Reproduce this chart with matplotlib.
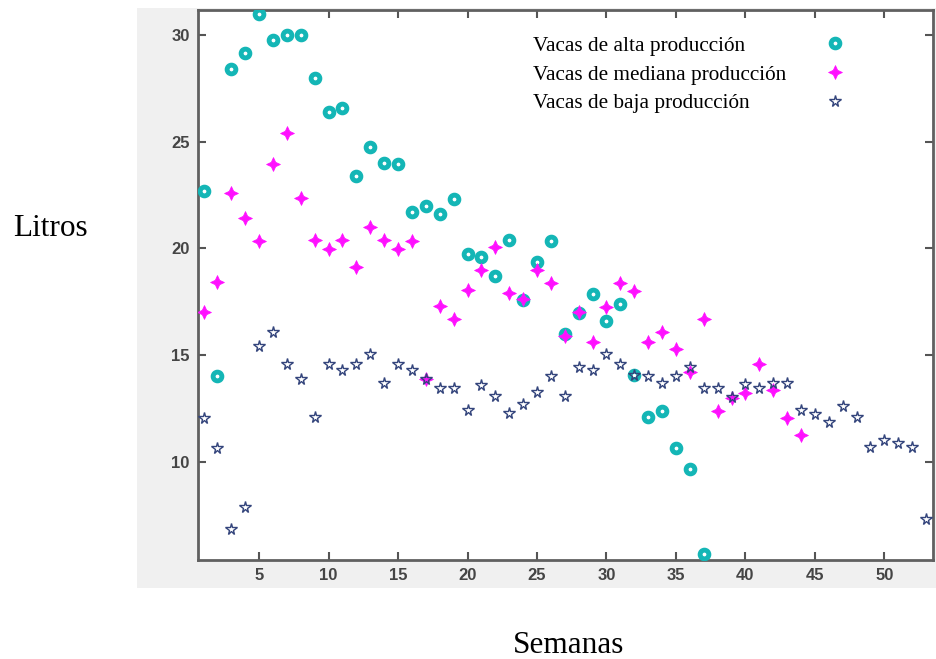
import numpy as np
import matplotlib
matplotlib.use("Agg")
import matplotlib.pyplot as plt
from matplotlib.patches import Rectangle
from matplotlib.path import Path
from matplotlib.lines import Line2D

# datos
alta = [22.7, 14.0, 28.4, 29.15, 31.0, 29.77, 30.0, 30.0, 28.0, 26.4,
        26.6, 23.4, 24.75, 24.0, 23.95, 21.7, 22.0, 21.6, 22.3, 19.73,
        19.6, 18.7, 20.4, 17.6, 19.36, 20.34, 16.0, 16.97, 17.86, 16.6,
        17.4, 14.06, 12.1, 12.4, 10.67, 9.65, 5.66]
mediana = [17.0, 18.42, 22.6, 21.42, 20.34, 23.95, 25.4, 22.36, 20.4, 19.97,
           20.4, 19.12, 21.0, 20.4, 19.97, 20.34, 13.87, 17.3, 16.69, 18.05,
           18.98, 20.06, 17.9, 17.62, 18.98, 18.37, 15.9, 17.02, 15.6, 17.27,
           18.4, 18.0, 15.6, 16.07, 15.27, 14.22, 16.68, 12.38, 12.97, 13.24,
           14.6, 13.37, 12.07, 11.28]
baja = [12.03, 10.67, 6.87, 7.89, 15.42, 16.06, 14.6, 13.89, 12.1, 14.6,
        14.3, 14.6, 15.04, 13.7, 14.6, 14.3, 13.86, 13.44, 13.44, 12.42,
        13.62, 13.08, 12.29, 12.7, 13.28, 14.0, 13.08, 14.42, 14.3, 15.04,
        14.6, 14.06, 14.0, 13.67, 14.0, 14.42, 13.44, 13.44, 13.05, 13.64,
        13.44, 13.7, 13.67, 12.42, 12.22, 11.87, 12.6, 12.1, 10.7, 11.01,
        10.89, 10.7, 7.3]
semanas_alta = np.arange(1, len(alta) + 1)
semanas_mediana = np.arange(1, len(mediana) + 1)
semanas_baja = np.arange(1, len(baja) + 1)

etiquetas = ["Vacas de alta producción", "Vacas de mediana producción",
             "Vacas de baja producción"]
xticks = [5, 10, 15, 20, 25, 30, 35, 40, 45, 50]
yticks = [10, 15, 20, 25, 30]

fig = plt.figure(figsize=(9.36, 6.59), dpi=100)
fig.patch.set_facecolor("white")
# fondo gris tipo matlab
fig.patches.append(Rectangle((137 / 936, 71 / 659), 799 / 936, 580 / 659,
                             transform=fig.transFigure, facecolor="#f0f0f0",
                             edgecolor="none", zorder=-10))

ax = fig.add_axes([198 / 936, 99 / 659, 735 / 936, 550 / 659])
ax.set_facecolor("white")

# estrella de 4 puntas para la mediana
cuatro = Path.unit_regular_star(4, 0.45)

l1, = ax.plot(semanas_alta, alta, linestyle="none", marker="o", markersize=6.3,
              markeredgewidth=3.5, markeredgecolor="#14b6b6", markerfacecolor="white",
              zorder=3)
l2, = ax.plot(semanas_mediana, mediana, linestyle="none", marker=cuatro, markersize=10,
              markeredgewidth=0.5, markeredgecolor="#ff10ff", markerfacecolor="#ff10ff",
              zorder=4)
l3, = ax.plot(semanas_baja, baja, linestyle="none", marker="*", markersize=8.5,
              markeredgewidth=1.0, markeredgecolor="#34457c", markerfacecolor="none",
              zorder=5)

ax.set_xlim(0.6, 53.5)
ax.set_ylim(5.4, 31.17)
ax.set_xticks(xticks)
ax.set_yticks(yticks)
ax.tick_params(direction="in", length=6, width=1.5, color="#555555",
               top=True, right=True, labelsize=12, labelcolor="#454545", pad=6)
for lab in ax.get_xticklabels() + ax.get_yticklabels():
    lab.set_family("Liberation Sans")
    lab.set_fontweight("bold")
for sp in ax.spines.values():
    sp.set_linewidth(2)
    sp.set_color("#606060")

ax.set_ylabel("Litros", rotation=0, fontsize=22.5, family="Liberation Serif",
              ha="center", va="center")
ax.yaxis.set_label_coords(-0.2014, 0.603)
ax.set_xlabel("Semanas", fontsize=22.5, family="Liberation Serif", va="baseline")
ax.xaxis.set_label_coords(0.5048, -0.169)

# leyenda: textos alineados a la izquierda, marcadores en columna aparte
prop = {"family": "Liberation Serif", "size": 15.3}
vacios = [Line2D([], [], linestyle="none") for _ in etiquetas]
leg_txt = ax.legend(vacios, etiquetas, loc="upper left", bbox_to_anchor=(0.4558, 0.953),
                    frameon=False, borderpad=0, borderaxespad=0, handletextpad=0,
                    handlelength=0, labelspacing=0.42, prop=prop)
ax.add_artist(leg_txt)
ax.legend([l1, l2, l3], [""] * 3, loc="upper left", bbox_to_anchor=(0.8378, 0.953),
          frameon=False, borderpad=0, borderaxespad=0, handletextpad=0,
          handlelength=2.0, labelspacing=0.42, prop=prop)

fig.savefig("out.png", dpi=100)
